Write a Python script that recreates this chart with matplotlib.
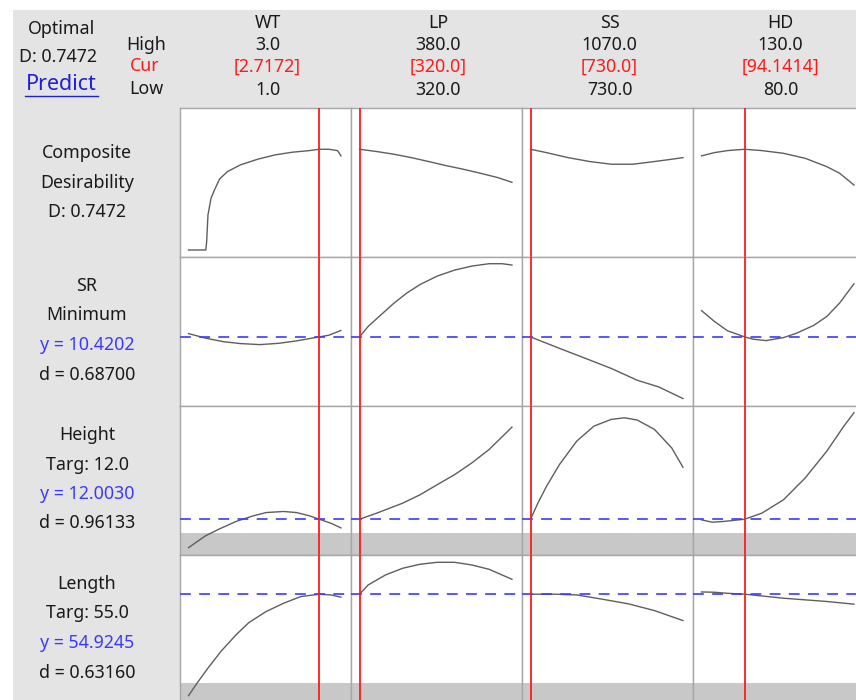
import matplotlib
matplotlib.use("Agg")
import matplotlib.pyplot as plt
from matplotlib.lines import Line2D
from matplotlib.patches import Rectangle

plt.rcParams['font.family'] = ['Noto Sans', 'DejaVu Sans']

# factors: name, high, current, low
factors = ['WT', 'LP', 'SS', 'HD']
f_high = [3.0, 380.0, 1070.0, 130.0]
f_cur = [2.7172, 320.0, 730.0, 94.1414]
f_low = [1.0, 320.0, 730.0, 80.0]
f_cur_txt = ['[2.7172]', '[320.0]', '[730.0]', '[94.1414]']

# row labels (left column)
row_labels = [
    ['Composite', 'Desirability', 'D: 0.7472'],
    ['SR', 'Minimum', 'y = 10.4202', 'd = 0.68700'],
    ['Height', 'Targ: 12.0', 'y = 12.0030', 'd = 0.96133'],
    ['Length', 'Targ: 55.0', 'y = 54.9245', 'd = 0.63160'],
]

# composite desirability D vs each factor
comp_wt_x = [1.0, 1.227, 1.238, 1.255, 1.295, 1.340, 1.408, 1.510, 1.680, 1.907, 2.133, 2.360, 2.586, 2.7172, 2.841, 2.955, 3.0]
comp_wt_y = [0.0, 0.0, 0.062, 0.260, 0.383, 0.445, 0.527, 0.581, 0.631, 0.673, 0.705, 0.725, 0.737, 0.747, 0.747, 0.737, 0.698]
comp_lp_x = [320, 326.8, 333.6, 340.4, 347.2, 354.0, 360.8, 367.6, 374.4, 380]
comp_lp_y = [0.747, 0.730, 0.710, 0.685, 0.656, 0.626, 0.599, 0.569, 0.537, 0.502]
comp_ss_x = [730, 765.6, 813.8, 862.0, 910.1, 958.3, 1006.4, 1044.9, 1070]
comp_ss_y = [0.747, 0.722, 0.685, 0.656, 0.636, 0.636, 0.656, 0.673, 0.685]
comp_hd_x = [80, 84.2, 88.5, 94.14, 99.8, 106.9, 114.0, 121.1, 125.3, 130]
comp_hd_y = [0.698, 0.722, 0.737, 0.747, 0.737, 0.717, 0.680, 0.618, 0.569, 0.482]

# responses, given as height within the panel (0 = bottom, 1 = top)
sr_wt_x = [1.0, 1.227, 1.453, 1.680, 1.935, 2.190, 2.416, 2.7172, 2.841, 3.0]
sr_wt_y = [0.486, 0.455, 0.432, 0.419, 0.412, 0.421, 0.437, 0.464, 0.475, 0.507]
sr_lp_x = [320, 323.4, 328.5, 333.6, 338.7, 343.8, 350.6, 357.4, 364.2, 371.0, 376.1, 380]
sr_lp_y = [0.464, 0.534, 0.613, 0.691, 0.759, 0.815, 0.872, 0.912, 0.939, 0.955, 0.955, 0.946]
sr_ss_x = [730, 746.4, 794.5, 852.3, 910.1, 967.9, 1015.9, 1070]
sr_ss_y = [0.464, 0.444, 0.387, 0.320, 0.252, 0.173, 0.128, 0.050]
sr_hd_x = [80, 84.2, 88.5, 94.14, 97.0, 101.2, 106.9, 111.2, 116.8, 121.1, 125.3, 130]
sr_hd_y = [0.640, 0.568, 0.505, 0.464, 0.448, 0.439, 0.459, 0.489, 0.541, 0.601, 0.691, 0.820]

ht_wt_x = [1.0, 1.113, 1.227, 1.397, 1.623, 1.850, 2.020, 2.246, 2.416, 2.586, 2.7172, 2.870, 3.0]
ht_wt_y = [0.049, 0.090, 0.130, 0.173, 0.225, 0.263, 0.285, 0.292, 0.285, 0.263, 0.240, 0.213, 0.182]
ht_lp_x = [320, 326.8, 337.0, 343.8, 350.6, 357.4, 364.2, 371.0, 380]
ht_lp_y = [0.240, 0.281, 0.348, 0.404, 0.472, 0.539, 0.618, 0.708, 0.858]
ht_ss_x = [730, 746.4, 765.6, 794.5, 833.0, 871.4, 910.1, 939.1, 967.9, 1006.4, 1044.9, 1070]
ht_ss_y = [0.240, 0.348, 0.461, 0.607, 0.764, 0.865, 0.910, 0.921, 0.906, 0.843, 0.719, 0.589]
ht_hd_x = [80, 83.5, 87.1, 94.14, 99.8, 106.9, 114.0, 121.1, 126.7, 130]
ht_hd_y = [0.236, 0.220, 0.225, 0.240, 0.281, 0.371, 0.517, 0.697, 0.865, 0.955]

ln_wt_x = [1.0, 1.113, 1.255, 1.425, 1.623, 1.793, 2.020, 2.246, 2.473, 2.7172, 2.870, 3.0]
ln_wt_y = [0.056, 0.141, 0.241, 0.353, 0.464, 0.547, 0.621, 0.676, 0.721, 0.737, 0.732, 0.717]
ln_lp_x = [320, 323.4, 330.2, 337.0, 343.8, 350.6, 357.4, 364.2, 371.0, 380]
ln_lp_y = [0.737, 0.799, 0.866, 0.911, 0.938, 0.951, 0.951, 0.933, 0.904, 0.837]
ln_ss_x = [730, 784.8, 833.0, 890.8, 948.6, 1006.4, 1070]
ln_ss_y = [0.737, 0.737, 0.732, 0.703, 0.672, 0.627, 0.560]
ln_hd_x = [80, 84.2, 88.5, 94.14, 99.8, 106.9, 114.0, 121.1, 130]
ln_hd_y = [0.752, 0.750, 0.743, 0.737, 0.725, 0.710, 0.699, 0.688, 0.670]

curves = [
    [(comp_wt_x, comp_wt_y), (comp_lp_x, comp_lp_y), (comp_ss_x, comp_ss_y), (comp_hd_x, comp_hd_y)],
    [(sr_wt_x, sr_wt_y), (sr_lp_x, sr_lp_y), (sr_ss_x, sr_ss_y), (sr_hd_x, sr_hd_y)],
    [(ht_wt_x, ht_wt_y), (ht_lp_x, ht_lp_y), (ht_ss_x, ht_ss_y), (ht_hd_x, ht_hd_y)],
    [(ln_wt_x, ln_wt_y), (ln_lp_x, ln_lp_y), (ln_ss_x, ln_ss_y), (ln_hd_x, ln_hd_y)],
]
# current response level (blue dashed) and lower bound band, in panel units
cur_level = [None, 0.464, 0.240, 0.737]
band_top = [None, None, 0.146, 0.141]

W, H = 856, 700
BG = '#e4e4e4'
EDGE = '#a6a6a6'
TXT = '#1a1a1a'
RED = '#ff1a1a'
BLUE = '#3a3aff'

fig = plt.figure(figsize=(W / 100, H / 100), dpi=100)
fig.patch.set_facecolor('white')
fig.add_artist(Rectangle((13 / W, 0), 1, 1 - 10 / H, transform=fig.transFigure,
                         facecolor=BG, edgecolor='none', zorder=-5))


def fx(x):
    return x / W


def fy(y):
    return 1 - y / H


def label(x, y, s, color=TXT, size=12.8):
    fig.text(fx(x), fy(y), s, ha='center', va='center', color=color, fontsize=size)


# header
label(62, 29, 'Optimal')
label(58, 57, 'D: 0.7472')
label(61, 84, 'Predict', color='#1f1fd6', size=15.5)
fig.add_artist(Line2D([fx(25), fx(98)], [fy(96), fy(96)], color='#1f1fd6', lw=1.0))
label(146, 45, 'High')
label(145, 66, 'Cur', color=RED)
label(146, 89, 'Low')

col_left = [180, 351, 522, 693]
col_w = 171
row_top = [108, 257, 406, 555]
row_h = 149

for j in range(4):
    cx = col_left[j] + col_w / 2 + 2
    label(cx, 23, factors[j])
    label(cx, 45, '%.1f' % f_high[j])
    label(cx, 67, f_cur_txt[j], color=RED)
    label(cx, 90, '%.1f' % f_low[j])

for i in range(4):
    # left labels
    n = len(row_labels[i])
    start = row_top[i] + 45 if n == 3 else row_top[i] + 29
    for k, s in enumerate(row_labels[i]):
        c = BLUE if s.startswith('y =') else TXT
        label(87, start + k * 29.5, s, color=c)

    for j in range(4):
        ax = fig.add_axes([fx(col_left[j]), fy(row_top[i] + row_h), col_w / W, row_h / H])
        rng = f_high[j] - f_low[j]
        ax.set_xlim(f_low[j] - 0.056 * rng, f_high[j] + 0.066 * rng)
        if i == 0:
            ax.set_ylim(-0.052, 1.053)
        else:
            ax.set_ylim(0, 1)
        ax.set_xticks([])
        ax.set_yticks([])
        for sp in ax.spines.values():
            sp.set_color(EDGE)
            sp.set_linewidth(1.0)
        if band_top[i] is not None:
            ax.axhspan(0, band_top[i], color='#c8c8c8', lw=0, zorder=1)
        xs, ys = curves[i][j]
        ax.plot(xs, ys, color='#5e5e5e', lw=1.0, zorder=3)
        if cur_level[i] is not None:
            ax.axhline(cur_level[i], color=BLUE, lw=1.2, dashes=(6.5, 5), zorder=4)
        ax.axvline(f_cur[j], color=RED, lw=1.3, zorder=5)

fig.savefig('out.png', dpi=100, facecolor=fig.get_facecolor())
